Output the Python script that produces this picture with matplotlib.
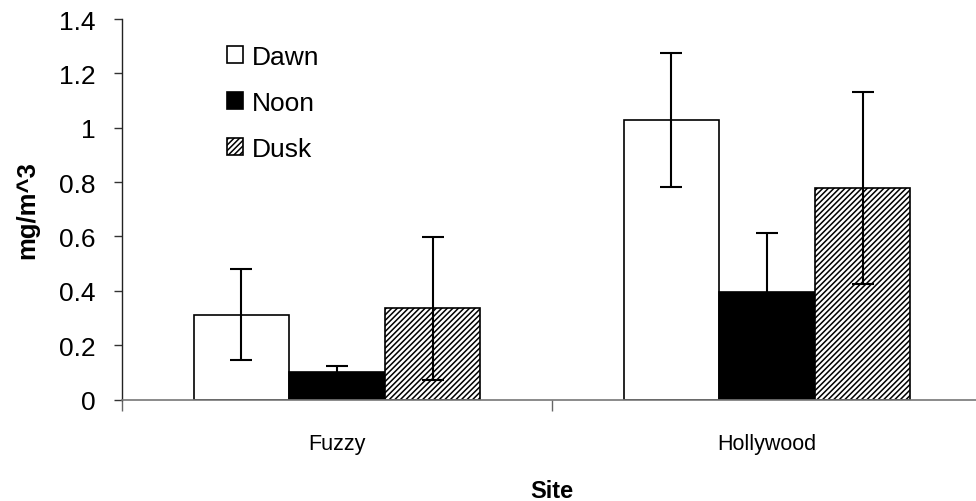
import numpy as np
import matplotlib
matplotlib.use("Agg")
import matplotlib.pyplot as plt

plt.rcParams['font.family'] = ['Liberation Sans', 'DejaVu Sans']
plt.rcParams['hatch.linewidth'] = 1.1

# mean concentration per site and time of day, with error (+/-)
sites = ["Fuzzy", "Hollywood"]
times = ["Dawn", "Noon", "Dusk"]
dawn = [0.312, 1.029]
noon = [0.100, 0.395]
dusk = [0.335, 0.777]
dawn_err = [0.168, 0.247]
noon_err = [0.023, 0.216]
dusk_err = [0.264, 0.353]

means = [dawn, noon, dusk]
errs = [dawn_err, noon_err, dusk_err]
faces = ["white", "black", "white"]
hatches = [None, None, "//////"]

fig = plt.figure(figsize=(9.76, 5.02), dpi=100)
ax = fig.add_axes([122 / 976, 101.5 / 502, 860 / 976, 380.5 / 502])

x = np.arange(len(sites))
w = 1 / 4.5
for i, t in enumerate(times):
    ax.bar(x + (i - 1) * w, means[i], w, color=faces[i], edgecolor="black",
           linewidth=1.2, hatch=hatches[i], label=t, zorder=2)
    ax.errorbar(x + (i - 1) * w, means[i], yerr=errs[i], fmt="none",
                ecolor="black", elinewidth=1.5, capsize=8, capthick=1.5, zorder=3)

ax.set_xlim(-0.5, 1.5)
ax.set_ylim(0, 1.4)
ax.set_yticks(np.arange(0, 1.41, 0.2))
ax.set_yticklabels(["0", "0.2", "0.4", "0.6", "0.8", "1", "1.2", "1.4"], fontsize=19)
ax.tick_params(axis="y", length=6, width=1, color="#333333", pad=13)

# tick marks between the groups, labels in the middle of each group
ax.set_xticks([-0.5, 0.5, 1.5])
ax.set_xticklabels([])
ax.tick_params(axis="x", which="major", length=8, width=1, color="#666666")
ax.set_xticks(x, minor=True)
ax.set_xticklabels(sites, minor=True, fontsize=15.5)
ax.tick_params(axis="x", which="minor", length=0, pad=24)

for s in ["top", "right"]:
    ax.spines[s].set_visible(False)
ax.spines["left"].set_color("#222222")
ax.spines["bottom"].set_color("#777777")
ax.spines["left"].set_linewidth(1)
ax.spines["bottom"].set_linewidth(1.2)

ax.set_ylabel("mg/m^3", fontsize=18.5, fontweight="bold", labelpad=14)
ax.set_xlabel("Site", fontsize=17, fontweight="bold", labelpad=18)

ax.legend(loc="center left", bbox_to_anchor=(227 / 976, 1 - 104 / 502),
          bbox_transform=fig.transFigure, frameon=False, fontsize=19,
          handlelength=0.6, handleheight=0.6, handletextpad=0.36,
          labelspacing=0.84, borderpad=0, borderaxespad=0)

fig.savefig("out.png", dpi=100)
